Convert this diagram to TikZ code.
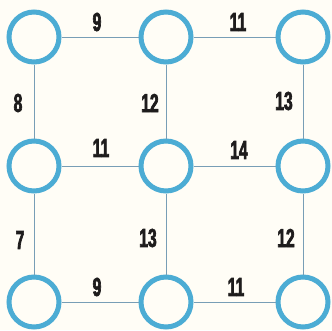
\documentclass[tikz,border=0pt]{standalone}
\usepackage{fontspec}
\newfontfamily\numfont[FakeStretch=0.6, FakeBold=2.5]{Liberation Sans Bold}
\definecolor{ring}{RGB}{76,172,212}
\definecolor{wire}{RGB}{120,158,182}
\definecolor{paper}{RGB}{255,253,246}
\definecolor{ink}{RGB}{30,28,28}
\tikzset{
  vtx/.style={circle, draw=ring, line width=5pt, minimum size=50pt, inner sep=0pt, fill=paper},
  wt/.style={font=\numfont\fontsize{26}{26}\selectfont, text=ink, inner sep=0pt},
  edge/.style={draw=wire, line width=0.9pt}
}
\begin{document}
\begin{tikzpicture}[x=1pt,y=-1pt]
\fill[paper] (0,0) rectangle (332,330);
\useasboundingbox (0,0) rectangle (332,330);
\node[vtx] (a1) at (34,37) {};
\node[vtx] (a2) at (166,37) {};
\node[vtx] (a3) at (303,37) {};
\node[vtx] (b1) at (34,166) {};
\node[vtx] (b2) at (166,166) {};
\node[vtx] (b3) at (303,166) {};
\node[vtx] (c1) at (34,302) {};
\node[vtx] (c2) at (166,302) {};
\node[vtx] (c3) at (303,302) {};
\draw[edge] (a1) -- (a2);
\draw[edge] (a2) -- (a3);
\draw[edge] (b1) -- (b2);
\draw[edge] (b2) -- (b3);
\draw[edge] (c1) -- (c2);
\draw[edge] (c2) -- (c3);
\draw[edge] (a1) -- (b1);
\draw[edge] (b1) -- (c1);
\draw[edge] (a2) -- (b2);
\draw[edge] (b2) -- (c2);
\draw[edge] (a3) -- (b3);
\draw[edge] (b3) -- (c3);
\node[wt] (w1) at (97,22) {9};
\node[wt] (w2) at (238,22) {11};
\node[wt] (w3) at (18,103) {8};
\node[wt] (w4) at (150,103) {12};
\node[wt] (w5) at (284,101) {13};
\node[wt] (w6) at (101,148) {11};
\node[wt] (w7) at (239,150) {14};
\node[wt] (w8) at (20,240) {7};
\node[wt] (w9) at (148,238) {13};
\node[wt] (w10) at (286,238) {12};
\node[wt] (w11) at (97,287) {9};
\node[wt] (w12) at (236,287) {11};
\end{tikzpicture}
\end{document}
